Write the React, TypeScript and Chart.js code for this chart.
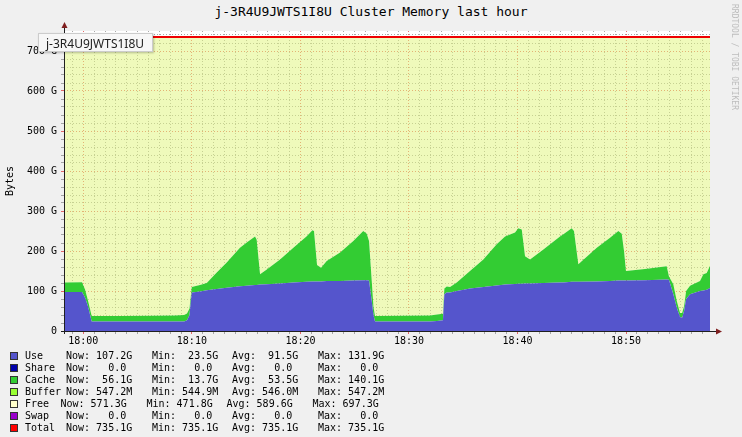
import React, { useEffect, useRef } from 'react';
import { Chart, registerables } from 'chart.js';

Chart.register(...registerables);

// ---- data (time in minutes after 18:00, values in GB) ----
const timeMinutes = [
  -1.78, -0.12, 0.16, 0.43, 0.77, 3.38, 6.14, 8.45, 9.28, 9.55, 9.78, 9.99,
  10.75, 11.37, 12.29, 13.21, 14.43, 15.05, 15.82, 15.97, 16.28, 16.9, 18.12,
  19.35, 20.58, 21.1, 21.25, 21.53, 21.9, 22.42, 23.65, 24.87, 25.79, 26.11,
  26.32, 26.57, 26.73, 26.87, 29.18, 31.94, 32.58, 33.13, 33.26, 33.48, 33.78,
  34.4, 35.62, 36.85, 38.08, 38.85, 39.77, 40.07, 40.39, 40.69, 41.15, 42.38,
  43.91, 44.22, 44.99, 45.2, 45.6, 47.3, 48.52, 49.29, 49.6, 49.81, 49.99,
  51.74, 53.74, 53.95, 54.35, 54.67, 54.97, 55.16, 55.34, 55.53, 55.89, 56.81,
  57.12, 57.43, 57.73,
];

const useValues = [
  97.5, 97.5, 83, 62, 23.5, 23.5, 23.5, 23.6, 24, 27, 40, 96,
  99, 102, 105, 108, 112, 113, 115, 115, 116, 117, 119,
  121, 123, 124, 124, 124, 124, 125, 125, 126, 127, 127,
  126, 75, 40, 23.5, 23.5, 23.5, 25, 27, 92, 96, 96,
  100, 106, 110, 114, 116, 117.5, 118, 118, 119, 119, 120,
  121, 121, 123, 123, 123, 124, 125, 126, 126, 126, 126,
  127, 129, 128, 92, 58, 35, 33, 50, 80, 92, 100,
  101, 103, 107.2,
];

const cacheValues = [
  23.5, 24.5, 21, 14, 13.7, 14, 14.5, 15, 16, 17, 16, 14,
  16, 18, 41, 63, 96, 108, 121, 113, 26, 37, 60,
  87, 114, 128, 126, 41, 34, 50, 71, 99, 123, 116,
  99, 50, 20, 13.7, 14.5, 15.5, 16, 16, 14, 15, 14,
  21, 44, 69, 103, 120, 128.5, 139, 136, 68, 60, 84,
  115, 121, 134, 127, 44, 84, 108, 124, 117, 74, 24,
  28, 33, 8, 25, 17, 10, 12, 12, 20, 21, 25,
  41, 42, 56.1,
];

const totalTimes = [-1.78, 57.73];
const totalValues = [735.1, 735.1];

const xMinMinute = -1.78;
const xMaxMinute = 57.73;
const xMajorMinutes = [0, 10, 20, 30, 40, 50];
const xMajorLabels = ['18:00', '18:10', '18:20', '18:30', '18:40', '18:50'];
const yMax = 750;
const yMajorValues = [0, 100, 200, 300, 400, 500, 600, 700];
const yMajorLabels = ['0', '100 G', '200 G', '300 G', '400 G', '500 G', '600 G', '700 G'];

// legend text
const legendLabels = ['Use', 'Share', 'Cache', 'Buffer', 'Free', 'Swap', 'Total'];
const legendNow = ['107.2G', '  0.0 ', ' 56.1G', '547.2M', '571.3G', '  0.0 ', '735.1G'];
const legendMin = [' 23.5G', '  0.0 ', ' 13.7G', '544.9M', '471.8G', '  0.0 ', '735.1G'];
const legendAvg = [' 91.5G', '  0.0 ', ' 53.5G', '546.0M', '589.6G', '  0.0 ', '735.1G'];
const legendMax = ['131.9G', '  0.0 ', '140.1G', '547.2M', '697.3G', '  0.0 ', '735.1G'];

// ---- styles / layout ----
const legendColors = ['#5555cc', '#0000aa', '#33cc33', '#99ff33', '#ffffcc', '#9900cc', '#ff0000'];
const rowShift = [0, 0, 0, 0, -5.5, 0, 0];
const itemX = [66, 152, 232, 318];
const MONO = '"DejaVu Sans Mono", monospace';
const MINOR = 'rgba(140,140,140,0.75)';
const MAJOR = 'rgba(225,70,70,0.8)';

const points = (xs: number[], ys: number[]) => xs.map((x, i) => ({ x, y: ys[i] }));

const bgPlugin = {
  id: 'canvasBg',
  beforeDraw(chart: any) {
    const { ctx, chartArea: a } = chart;
    ctx.save();
    ctx.fillStyle = '#ffffff';
    ctx.fillRect(a.left, a.top, a.right - a.left, a.bottom - a.top);
    ctx.restore();
  },
};

const axisPlugin = {
  id: 'rrdAxes',
  afterDraw(chart: any) {
    const { ctx, chartArea: a } = chart;
    const y0 = Math.round(a.bottom) + 0.5;
    const x0 = Math.round(a.left) + 0.5;
    ctx.save();
    ctx.strokeStyle = '#1f1f1f';
    ctx.lineWidth = 1;
    ctx.beginPath();
    ctx.moveTo(a.left - 3, y0);
    ctx.lineTo(a.right + 6, y0);
    ctx.moveTo(x0, a.bottom + 3);
    ctx.lineTo(x0, a.top - 3);
    ctx.stroke();
    ctx.fillStyle = '#7f1f1f';
    ctx.beginPath();
    ctx.moveTo(a.right + 6, y0 - 3);
    ctx.lineTo(a.right + 12, y0);
    ctx.lineTo(a.right + 6, y0 + 3);
    ctx.closePath();
    ctx.fill();
    ctx.beginPath();
    ctx.moveTo(x0 - 3, a.top - 3);
    ctx.lineTo(x0, a.top - 9);
    ctx.lineTo(x0 + 3, a.top - 3);
    ctx.closePath();
    ctx.fill();
    ctx.restore();
  },
};

export default function App() {
  const ref = useRef<HTMLCanvasElement | null>(null);

  useEffect(() => {
    if (!ref.current) return;
    const chart = new Chart(ref.current, {
      type: 'line',
      data: {
        datasets: [
          {
            label: 'Use',
            data: points(timeMinutes, useValues),
            backgroundColor: '#5555cc',
            borderWidth: 0,
            pointRadius: 0,
            fill: 'origin',
            tension: 0,
          },
          {
            label: 'Cache',
            data: points(timeMinutes, cacheValues),
            backgroundColor: '#33cc33',
            borderWidth: 0,
            pointRadius: 0,
            fill: '-1',
            tension: 0,
          },
          {
            label: 'Total',
            data: points(totalTimes, totalValues),
            stack: 'total',
            borderColor: '#ee0000',
            borderWidth: 2,
            backgroundColor: 'rgba(225,245,125,0.52)',
            pointRadius: 0,
            fill: { target: 1 },
            tension: 0,
          },
        ],
      } as any,
      options: {
        animation: false,
        responsive: false,
        devicePixelRatio: 1,
        layout: { padding: { left: 0, right: 32, top: 31, bottom: 86 } },
        plugins: {
          legend: { display: false },
          tooltip: { enabled: false },
          title: { display: false },
        },
        scales: {
          x: {
            type: 'linear',
            min: xMinMinute,
            max: xMaxMinute,
            afterBuildTicks(scale: any) {
              const t = [];
              for (let m = Math.ceil(xMinMinute); m <= Math.floor(xMaxMinute); m++) t.push({ value: m });
              scale.ticks = t;
            },
            afterFit(scale: any) {
              scale.height = 20;
            },
            ticks: {
              autoSkip: false,
              maxRotation: 0,
              padding: 1,
              color: '#000',
              font: { family: MONO, size: 10 },
              callback(v: any) {
                const i = xMajorMinutes.indexOf(Math.round(Number(v)));
                return i >= 0 ? xMajorLabels[i] : '';
              },
            },
            grid: {
              color: (c: any) => (c.tick && Math.round(c.tick.value) % 10 === 0 ? MAJOR : MINOR),
              tickLength: 3,
              lineWidth: 1,
            },
            border: { display: false, dash: [1, 2] },
          },
          y: {
            type: 'linear',
            stacked: true,
            min: 0,
            max: yMax,
            afterBuildTicks(scale: any) {
              const t = [];
              for (let v = 0; v < yMax; v += 20) t.push({ value: v });
              scale.ticks = t;
            },
            afterFit(scale: any) {
              scale.width = 64;
            },
            ticks: {
              autoSkip: false,
              padding: 4,
              color: '#000',
              font: { family: MONO, size: 10 },
              callback(v: any) {
                const i = yMajorValues.indexOf(Math.round(Number(v)));
                return i >= 0 ? yMajorLabels[i] : '';
              },
            },
            grid: {
              color: (c: any) => (c.tick && Math.round(c.tick.value) % 100 === 0 ? MAJOR : MINOR),
              tickLength: 3,
              lineWidth: 1,
            },
            border: { display: false, dash: [1, 2] },
            title: {
              display: true,
              text: 'Bytes',
              color: '#000',
              font: { family: MONO, size: 10 },
              padding: { top: 4, bottom: 0 },
            },
          },
        },
      } as any,
      plugins: [bgPlugin, axisPlugin],
    });
    return () => chart.destroy();
  }, []);

  return (
    <div
      style={{
        position: 'absolute',
        left: 0,
        top: 0,
        width: 742,
        height: 437,
        background: '#f0f0f0',
        overflow: 'hidden',
        fontFamily: MONO,
        color: '#000',
      }}
    >
      <div
        style={{
          position: 'absolute',
          left: 0,
          top: 4,
          width: 742,
          textAlign: 'center',
          fontSize: 13,
          lineHeight: '16px',
          whiteSpace: 'pre',
        }}
      >
        j-3R4U9JWTS1I8U Cluster Memory last hour
      </div>
      <canvas
        ref={ref}
        width={742}
        height={437}
        style={{ position: 'absolute', left: 0, top: 0, width: 742, height: 437 }}
      />
      <div
        style={{
          position: 'absolute',
          left: 730,
          top: 4,
          writingMode: 'vertical-rl',
          fontSize: 8,
          lineHeight: '8px',
          color: '#bdbdbd',
          whiteSpace: 'pre',
        }}
      >
        RRDTOOL / TOBI OETIKER
      </div>
      {legendLabels.map((lab, i) => {
        const top = 350 + i * 12.05;
        const s = rowShift[i];
        const items = [
          'Now: ' + legendNow[i],
          'Min: ' + legendMin[i],
          'Avg: ' + legendAvg[i],
          'Max: ' + legendMax[i],
        ];
        return (
          <div key={lab} style={{ position: 'absolute', left: 0, top, height: 12, width: 742, fontSize: 10, lineHeight: '12px' }}>
            <div
              style={{
                position: 'absolute',
                left: 10,
                top: 2,
                width: 6,
                height: 6,
                background: legendColors[i],
                border: '1px solid #333',
              }}
            />
            <span style={{ position: 'absolute', left: 25, top: 0, whiteSpace: 'pre' }}>{lab}</span>
            {items.map((t, k) => (
              <span key={k} style={{ position: 'absolute', left: itemX[k] + s, top: 0, whiteSpace: 'pre' }}>
                {t}
              </span>
            ))}
          </div>
        );
      })}
      <div
        style={{
          position: 'absolute',
          left: 38,
          top: 33,
          width: 115,
          height: 19,
          background: '#f7f7f7',
          border: '1px solid #cccccc',
          boxShadow: '1px 1px 2px rgba(0,0,0,0.25)',
          fontFamily: '"Noto Sans", "DejaVu Sans", sans-serif',
          fontSize: 12,
          lineHeight: '19px',
          color: '#222',
          paddingLeft: 7,
          boxSizing: 'border-box',
          whiteSpace: 'pre',
        }}
      >
        j-3R4U9JWTS1I8U
      </div>
    </div>
  );
}
